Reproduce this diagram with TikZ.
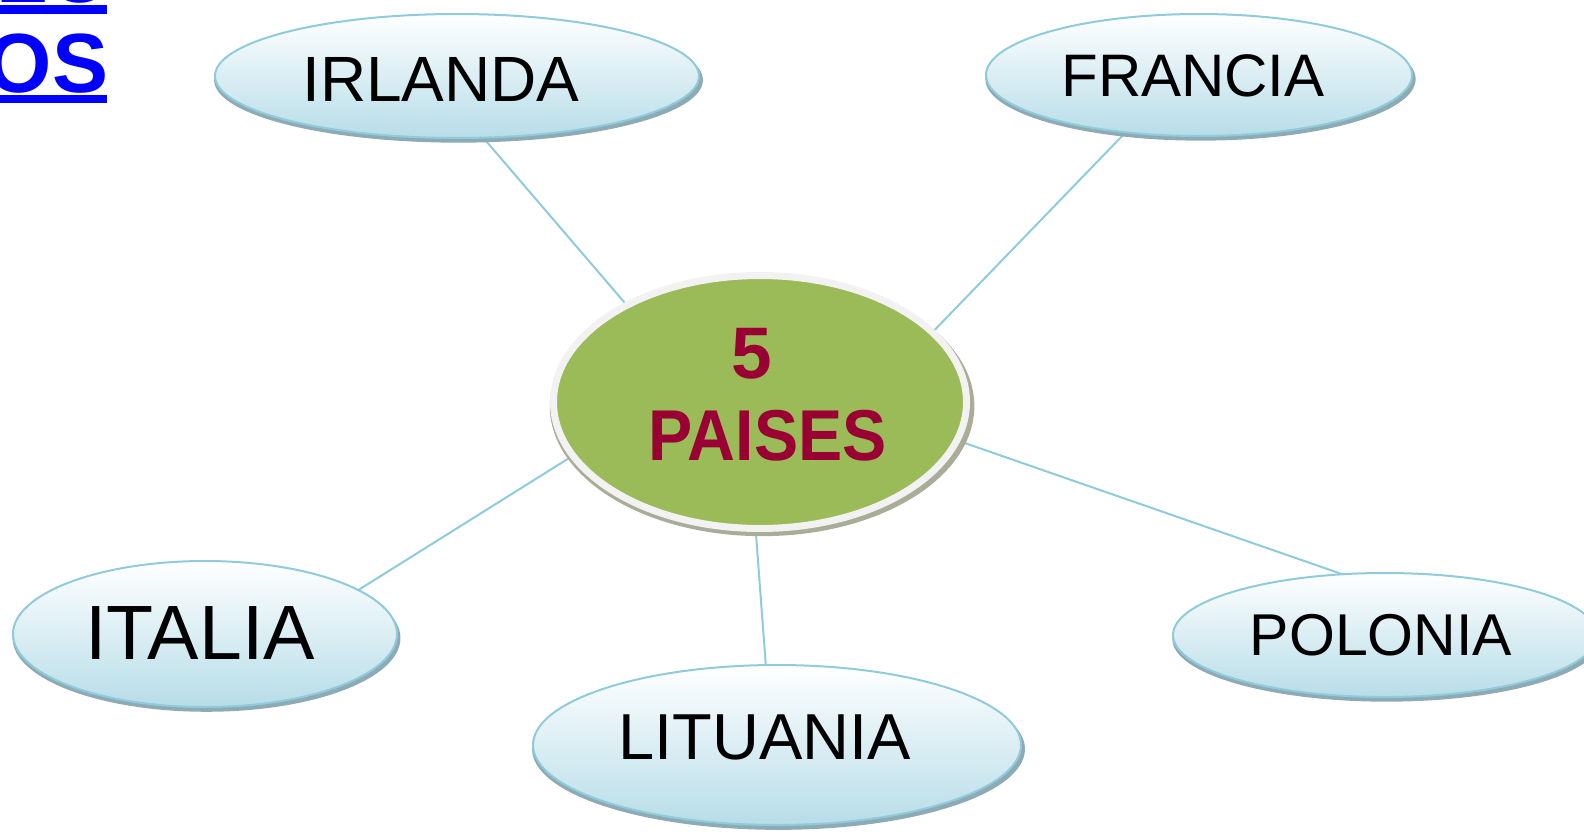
\documentclass[tikz,border=0pt]{standalone}
\usepackage{fontspec}
\setmainfont{Liberation Sans}
\usetikzlibrary{shapes.geometric,shadows}
\definecolor{bord}{HTML}{8FCBDB}
\definecolor{fillb}{HTML}{B7DDE8}
\definecolor{shadb}{HTML}{8EAAB4}
\definecolor{greenc}{HTML}{9BBB59}
\definecolor{ringc}{HTML}{F2F2F2}
\definecolor{shadg}{HTML}{A9AD98}
\definecolor{redc}{HTML}{990033}
\definecolor{linkc}{HTML}{0000FF}
\pgfdeclarelayer{bg}
\pgfsetlayers{bg,main}
\begin{document}
\begin{tikzpicture}[x=1pt,y=-1pt,
  country/.style={ellipse, draw=bord, line width=2pt, top color=white,
    bottom color=fillb, inner sep=0pt, outer sep=0pt,
    drop shadow={shadow xshift=1.5pt, shadow yshift=-4pt, shadow scale=1.01, fill=shadb, opacity=1}},
  center/.style={ellipse, draw=ringc, line width=7pt, fill=greenc,
    inner sep=0pt, outer sep=0pt, minimum width=413pt, minimum height=253pt,
    drop shadow={shadow xshift=2pt, shadow yshift=-4pt, shadow scale=1.028, fill=shadg, opacity=1}},
  conn/.style={draw=bord, line width=2pt},
  ctext/.style={anchor=base, inner sep=0pt, text=black},
  ptext/.style={anchor=base, inner sep=0pt, text=redc},
  ltext/.style={anchor=base east, inner sep=0pt, text=linkc,
    font=\bfseries\fontsize{84}{84}\selectfont}]
\useasboundingbox (0,0) rectangle (1584,835);

% top-left cut link text
\node[ltext] (lnk1) at (113,2) {LO};
\node[ltext] (lnk2) at (108.5,92) {OS};
\fill[linkc] (0,5) rectangle (107,14);
\fill[linkc] (0,95) rectangle (107,103);

% nodes
\node[center] (cen) at (760,402) {};
\node[country, minimum width=484pt, minimum height=124pt] (irl) at (457,76) {};
\node[country, minimum width=426pt, minimum height=122pt] (fra) at (1199,75) {};
\node[country, minimum width=384pt, minimum height=146pt] (ita) at (205,634) {};
\node[country, minimum width=488pt, minimum height=160pt] (lit) at (777,745) {};
\node[country, minimum width=424pt, minimum height=124pt] (pol) at (1385,635) {};

% labels
\node[ctext, font=\fontsize{64}{64}\selectfont] (tirl) at (441,101) {IRLANDA};
\node[ctext, font=\fontsize{60}{60}\selectfont] (tfra) at (1193,96) {FRANCIA};
\node[ctext, font=\fontsize{77}{77}\selectfont] (tita) at (200,659) {ITALIA};
\node[ctext, font=\fontsize{65}{65}\selectfont] (tlit) at (765,759) {LITUANIA};
\node[ctext, font=\fontsize{59}{59}\selectfont] (tpol) at (1381,655) {POLONIA};
\node[ptext, font=\bfseries\fontsize{73}{73}\selectfont] (tfive) at (752,378) {5};
\node[ptext, font=\bfseries\fontsize{72}{72}\selectfont] (tpai) at (767.5,460) {\scalebox{0.92}[1]{PAISES}};

% connectors
\begin{pgfonlayer}{bg}
\draw[conn] (irl.-67.9) -- (cen.144.5);
\draw[conn] (fra.218.5) -- (cen.22.7);
\draw[conn] (ita.16.9) -- (cen.196.5);
\draw[conn] (lit.98.5) -- (cen.268.7);
\draw[conn] (pol.125) -- (cen.-11.2);
\end{pgfonlayer}
\end{tikzpicture}
\end{document}
